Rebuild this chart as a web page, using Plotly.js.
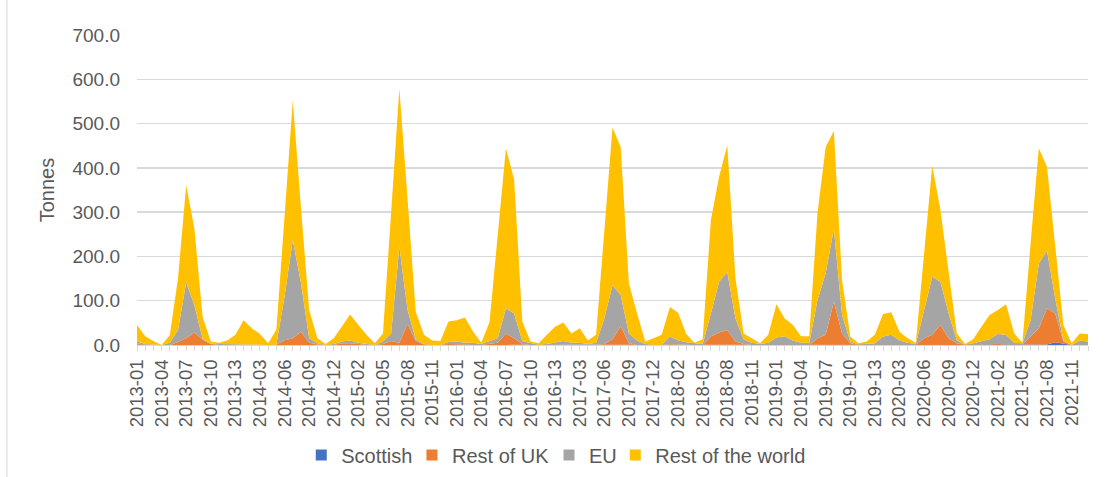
<!DOCTYPE html>
<html>
<head>
<meta charset="utf-8">
<script src="https://cdn.plot.ly/plotly-3.0.1.min.js"></script>
<style>
html,body{margin:0;padding:0;background:#ffffff;}
#chart{width:1108px;height:477px;}
</style>
</head>
<body>
<div id="chart"></div>
<script>
// Category labels: financial years 2013-2021, 13 periods each
const years = ['2013','2014','2015','2016','2017','2018','2019','2020','2021'];
const periods = ['01','02','03','04','05','06','07','08','09','10','11','12','13'];
const categories = years.flatMap(y => periods.map(p => y + '-' + p));

// Labels shown on the axis (every third category)
const tickLabels = ['2013-01','2013-04','2013-07','2013-10','2013-13','2014-03','2014-06','2014-09','2014-12',
  '2015-02','2015-05','2015-08','2015-11','2016-01','2016-04','2016-07','2016-10','2016-13','2017-03','2017-06',
  '2017-09','2017-12','2018-02','2018-05','2018-08','2018-11','2019-01','2019-04','2019-07','2019-10','2019-13',
  '2020-03','2020-06','2020-09','2020-12','2021-02','2021-05','2021-08','2021-11'];

// Series values (tonnes), one per category
const scottish = [1,0,0,0,0,0,0,0,0,0,0,0,0,
  0,0,0,0,0,0,0,0,0,0,0,0,0,
  0,0,0,0,0,0,0,0,0,0,0,0,0,
  0,0,0,0,0,0,0,0,0,0,0,0,0,
  0,0,0,0,0,0,0,0,0,0,0,0,0,
  0,0,0,0,0,0,0,0,0,0,0,0,0,
  0,0,0,0,0,0,0,0,0,0,0,0,0,
  0,0,0,0,0,0,0,0,0,0,0,0,0,
  0,0,0,0,0,0,0,1,6,3,0,0,0];

const restOfUK = [3,1,0,0,0,7,15,28,12,2,0,0,0,
  0,0,0,0,1,11,15,30,5,1,0,0,4,
  4,2,0,0,2,9,5,47,9,1,0,0,2,
  2,1,0,0,3,5,26,15,2,0,0,0,0,
  1,0,0,0,1,2,13,43,4,0,0,0,0,
  2,1,0,0,0,19,28,34,8,2,0,0,0,
  0,1,0,0,0,15,23,98,26,4,0,0,0,
  0,0,0,0,0,15,23,45,15,4,0,0,0,
  1,2,0,0,0,19,38,82,65,5,0,0,0];

const eu = [4,1,1,0,5,27,126,62,2,1,2,2,2,
  2,2,1,0,0,99,222,110,10,3,0,2,4,
  6,3,2,0,6,17,217,32,4,1,0,0,5,
  6,4,5,2,6,10,57,56,7,4,0,2,5,
  8,5,5,2,4,58,122,70,22,10,2,0,0,
  17,10,6,4,2,52,115,131,52,11,5,2,5,
  17,19,10,5,5,86,139,165,42,4,1,2,4,
  19,23,10,5,2,64,131,98,56,7,0,4,8,
  12,23,23,5,4,37,146,130,34,2,0,10,8];

const restOfWorld = [37,18,8,0,17,116,220,173,50,5,3,8,21,
  54,36,24,4,34,180,315,170,64,11,2,13,33,
  59,40,21,4,18,274,357,251,62,21,10,9,46,
  48,57,25,3,43,225,361,303,44,4,4,21,36,
  42,21,33,8,18,200,356,334,113,61,6,15,23,
  67,62,19,1,11,211,237,286,90,13,10,2,18,
  75,40,35,15,15,196,285,220,79,11,3,6,19,
  51,51,20,10,3,122,251,162,91,15,2,9,33,
  55,54,69,21,1,174,260,189,117,35,4,16,16];

const seriesNames = ['Scottish','Rest of UK','EU','Rest of the world'];
const seriesValues = [scottish, restOfUK, eu, restOfWorld];
const seriesColors = ['#4472C4','#ED7D31','#A5A5A5','#FFC000'];

const legendIds = ['legend','legend2','legend3','legend4'];
const legendLeft = [0.2719, 0.3718, 0.4955, 0.5553];

const traces = [];
seriesValues.forEach((vals, k) => {
  traces.push({
    type:'scatter', mode:'lines', x:categories, y:vals, name:seriesNames[k],
    stackgroup:'one', fillcolor:seriesColors[k],
    line:{width:0, color:seriesColors[k], shape:'linear'},
    showlegend:false, hoverinfo:'skip'
  });
});
// legend entries with square swatches
seriesValues.forEach((vals, k) => {
  traces.push({
    type:'scatter', mode:'markers', x:[categories[0]], y:[null], name:seriesNames[k],
    marker:{symbol:'square', size:11, color:seriesColors[k]},
    showlegend:true, legend:legendIds[k], hoverinfo:'skip'
  });
});

const tickText = categories.map(c => tickLabels.includes(c) ? c : '');

const layout = {
  width:1108, height:477,
  margin:{l:137, r:20, t:35, b:132, pad:0},
  paper_bgcolor:'#ffffff', plot_bgcolor:'#ffffff',
  font:{family:'"Liberation Sans", Arial, sans-serif', size:18, color:'#595959'},
  showlegend:true,
  xaxis:{type:'category', tickmode:'array', tickvals:categories, ticktext:tickText,
    tickangle:-90, ticks:'outside', ticklen:5, tickwidth:1, tickcolor:'#d9d9d9',
    showline:true, linecolor:'#d9d9d9', linewidth:1, showgrid:false, zeroline:false,
    ticklabelstandoff:1,
    range:[0, categories.length-1], tickfont:{size:18.5, color:'#595959'}, automargin:false},
  yaxis:{range:[0,700], tickmode:'linear', tick0:0, dtick:100, tickformat:'.1f',
    gridcolor:'#d9d9d9', gridwidth:1.3, zeroline:false, showline:false, ticks:'',
    tickfont:{size:19, color:'#595959'}, ticklabelstandoff:16,
    title:{text:'Tonnes', font:{size:20, color:'#595959'}, standoff:12}, automargin:false},
  shapes:[
    {type:'line', xref:'paper', yref:'paper', x0:-0.1367, x1:-0.1367, y0:1.12, y1:-0.43,
     line:{color:'#d9d9d9', width:1}}
  ]
};
legendIds.forEach((id, k) => {
  layout[id] = {orientation:'h', xref:'container', yref:'container', x:legendLeft[k], xanchor:'left',
    y:0.046, yanchor:'middle', font:{size:20, color:'#595959'}, bgcolor:'rgba(0,0,0,0)'};
});

Plotly.newPlot('chart', traces, layout, {displayModeBar:false, staticPlot:true});
</script>
</body>
</html>
